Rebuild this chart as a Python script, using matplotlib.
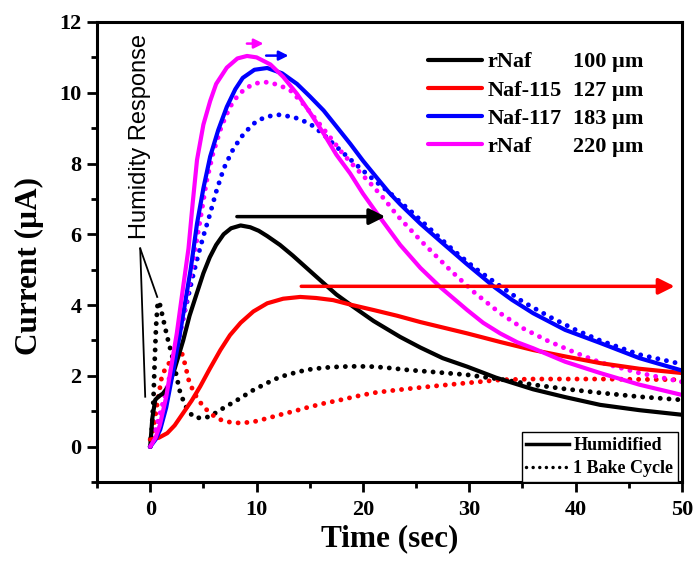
import matplotlib
matplotlib.use("Agg")
import matplotlib.pyplot as plt
from matplotlib.lines import Line2D
from matplotlib.ticker import MultipleLocator

# ---- data (time in s, current in uA) ----
x_k_hum = [0, 0.2, 0.47, 0.8, 1.2, 1.7, 2.2, 2.7, 3.1, 3.7, 4.4, 5.0, 5.6, 6.2, 6.9, 7.6, 8.5, 9.4,
           10.2, 11, 12.2, 13.4, 14.7, 16, 17.5, 19.1, 21, 23.5, 25.4, 27.5, 29.8, 32.5, 36, 39, 42.3, 46, 50]
y_k_hum = [0, 0.8, 1.32, 1.42, 1.5, 1.7, 2.1, 2.6, 3.0, 3.7, 4.35, 4.9, 5.35, 5.7, 6.0, 6.17, 6.25, 6.2,
           6.1, 5.95, 5.7, 5.4, 5.05, 4.7, 4.3, 3.95, 3.55, 3.1, 2.8, 2.5, 2.26, 1.95, 1.62, 1.4, 1.18, 1.03, 0.9]

x_r_hum = [0, 0.8, 1.6, 2.3, 3.1, 3.9, 4.7, 5.6, 6.6, 7.5, 8.5, 9.7, 11, 12.5, 14.1, 15.6, 17.2, 19,
           21, 23.2, 25.4, 27.6, 29.8, 33, 36, 39, 42.3, 46, 50]
y_r_hum = [0.2, 0.25, 0.38, 0.6, 0.95, 1.3, 1.7, 2.2, 2.73, 3.15, 3.5, 3.82, 4.05, 4.18, 4.23, 4.2, 4.14, 4.0,
           3.86, 3.7, 3.52, 3.36, 3.2, 2.95, 2.73, 2.55, 2.36, 2.2, 2.08]

x_b_hum = [0, 0.5, 0.94, 1.5, 2.2, 2.8, 3.3, 3.8, 4.4, 5.0, 5.64, 6.4, 7.2, 8.0, 8.7, 9.8, 11, 12.4, 13.8,
           15, 16.3, 17.5, 18.8, 20, 21.3, 22.4, 23.5, 25.4, 27.3, 29.8, 32.4, 34, 36, 39, 42.3, 46, 50]
y_b_hum = [0, 0.2, 0.48, 1.1, 2.2, 3.2, 4.1, 5.0, 6.3, 7.3, 8.2, 8.95, 9.6, 10.1, 10.42, 10.65, 10.7, 10.55, 10.25,
           9.9, 9.5, 9.05, 8.56, 8.08, 7.6, 7.2, 6.85, 6.3, 5.8, 5.15, 4.5, 4.15, 3.77, 3.3, 2.93, 2.5, 2.15]

x_m_hum = [0, 0.5, 0.9, 1.5, 2.0, 2.5, 3.0, 3.6, 4.0, 4.4, 5.0, 5.64, 6.2, 7.2, 8.2, 9.1, 10.0, 11.3, 12.5,
           13.8, 15, 16.3, 17.5, 18.8, 20, 21.3, 22.4, 23.5, 25.4, 27.3, 29.8, 31.3, 32.9, 34.5, 36, 39, 42.3, 46, 50]
y_m_hum = [0, 0.25, 0.6, 1.4, 2.3, 3.2, 4.3, 5.6, 6.9, 8.1, 9.1, 9.77, 10.25, 10.71, 10.97, 11.04, 11.0, 10.8, 10.45,
           9.97, 9.45, 8.85, 8.25, 7.72, 7.15, 6.6, 6.15, 5.7, 5.05, 4.5, 3.86, 3.5, 3.2, 2.95, 2.78, 2.4, 2.08, 1.75, 1.46]

x_k_bake = [0, 0.15, 0.3, 0.42, 0.55, 0.7, 0.85, 1.0, 1.3, 1.6, 1.9, 2.2, 2.5, 2.8, 3.3, 4.0, 4.8, 5.6, 6.6,
            7.4, 8.2, 9.7, 11, 12.2, 13.5, 14.7, 16.3, 17.9, 19.5, 21, 22.6, 24.1, 27, 29.8, 33, 36, 39, 42.3, 46, 50]
y_k_bake = [0, 0.5, 1.3, 2.4, 3.4, 4.05, 4.1, 3.9, 3.5, 3.1, 2.75, 2.4, 1.95, 1.55, 1.15, 0.85, 0.8, 0.85, 1.04,
            1.18, 1.32, 1.6, 1.8, 1.97, 2.08, 2.17, 2.23, 2.26, 2.27, 2.26, 2.22, 2.17, 2.1, 2.03, 1.9, 1.75, 1.63, 1.52, 1.41, 1.32]

x_r_bake = [0, 0.3, 0.6, 1.1, 1.5, 2.0, 2.5, 3.0, 3.3, 3.6, 4.0, 4.4, 5.0, 5.7, 6.4, 7.3, 8.2, 9.0, 9.7, 11,
            12.2, 13.5, 14.7, 16.3, 17.9, 19.5, 21, 22.6, 24.1, 27, 29.8, 33, 36, 42.3, 50]
y_r_bake = [0.2, 0.5, 1.1, 2.0, 2.25, 2.45, 2.6, 2.62, 2.3, 1.9, 1.6, 1.38, 1.13, 0.93, 0.78, 0.7, 0.67, 0.68, 0.7, 0.8,
            0.9, 1.0, 1.1, 1.22, 1.32, 1.43, 1.52, 1.58, 1.63, 1.72, 1.8, 1.89, 1.91, 1.91, 1.89]

x_b_bake = [0, 0.6, 1.2, 1.9, 2.5, 3.0, 3.5, 4.0, 4.5, 5.0, 5.6, 6.2, 6.9, 7.7, 8.5, 9.3, 10, 11, 12.2, 13.6,
            15, 16.3, 17.6, 18.8, 20, 21.3, 22.6, 24.7, 26.5, 28.5, 30.5, 32.6, 35, 37.6, 40, 42.3, 46, 50]
y_b_bake = [0, 0.5, 1.13, 2.0, 2.8, 3.5, 4.14, 4.8, 5.4, 5.95, 6.55, 7.2, 7.85, 8.35, 8.73, 9.0, 9.2, 9.33, 9.38, 9.3,
            9.13, 8.82, 8.45, 8.12, 7.8, 7.47, 7.15, 6.6, 6.1, 5.55, 5.05, 4.6, 4.1, 3.66, 3.3, 3.0, 2.6, 2.33]

x_m_bake = [0, 0.8, 1.6, 2.3, 3.1, 3.9, 4.7, 5.3, 5.9, 6.7, 7.5, 8.3, 9.1, 10, 11, 12.1, 13.2, 14.5, 15.7,
            16.9, 18.1, 19.4, 20.7, 22, 23.2, 25.5, 28.2, 30.5, 32.9, 35, 37.3, 40, 42.3, 46, 50]
y_m_bake = [0, 0.8, 1.7, 2.6, 3.6, 5.0, 6.4, 7.5, 8.28, 9.05, 9.6, 9.95, 10.15, 10.27, 10.3, 10.22, 10.06, 9.65, 9.2,
            8.75, 8.28, 7.85, 7.44, 7.0, 6.54, 5.8, 4.99, 4.35, 3.77, 3.35, 3.0, 2.65, 2.38, 2.08, 1.83]

names = ["rNaf", "Naf-115", "Naf-117", "rNaf"]
thick = ["100 \u00b5m", "127 \u00b5m", "183 \u00b5m", "220 \u00b5m"]
colors = ["black", "#ff0000", "#0000ff", "#ff00ff"]

plt.rcParams["font.family"] = ["Liberation Serif", "DejaVu Serif"]
plt.rcParams["font.weight"] = "bold"

fig = plt.figure(figsize=(6.93, 5.61), dpi=100)
ax = fig.add_axes([0.140, 0.1408, 0.8442, 0.820])

dot = (0, (0.01, 1.8))
hum = [(x_k_hum, y_k_hum), (x_r_hum, y_r_hum), (x_b_hum, y_b_hum), (x_m_hum, y_m_hum)]
bake = [(x_k_bake, y_k_bake), (x_r_bake, y_r_bake), (x_b_bake, y_b_bake), (x_m_bake, y_m_bake)]
for (xs, ys), c in zip(bake, colors):
    ax.plot(xs, ys, color=c, lw=3.5, ls=dot, dash_capstyle="round")
for (xs, ys), c in zip(hum, colors):
    ax.plot(xs, ys, color=c, lw=3.0, solid_capstyle="round", solid_joinstyle="round")

ax.set_xlim(-5, 50)
ax.set_ylim(-1, 12)
ax.xaxis.set_major_locator(MultipleLocator(10))
ax.xaxis.set_minor_locator(MultipleLocator(5))
ax.yaxis.set_major_locator(MultipleLocator(2))
ax.yaxis.set_minor_locator(MultipleLocator(1))
ax.tick_params(which="major", direction="out", length=7, width=2, labelsize=16, pad=4)
ax.tick_params(which="minor", direction="out", length=4.5, width=2)
ax.tick_params(axis="x", which="major", pad=6)
for sp in ax.spines.values():
    sp.set_linewidth(2.2)

ax.set_xlabel("Time (sec)", fontsize=22.5, fontweight="bold", va="top")
ax.set_ylabel("Current (\u00b5A)", fontsize=22.5, fontweight="bold")
ax.xaxis.set_label_coords(0.5, -0.092)
ax.yaxis.set_label_coords(-0.09, 0.47)

# annotations
ax.text(-0.94, 8.76, "Humidity Response", rotation=90, ha="center", va="center",
        fontsize=17, fontweight="normal", family=["Liberation Sans", "DejaVu Sans"])
ax.plot([-0.94, -0.47], [5.6, 1.41], color="black", lw=1.3)
ax.plot([-0.94, 0.66], [5.6, 4.23], color="black", lw=1.3)

def arrow(x0, x1, y, c, lw, ms):
    ax.annotate("", xy=(x1, y), xytext=(x0, y),
                arrowprops=dict(arrowstyle="-|>", color=c, lw=lw, mutation_scale=ms,
                                shrinkA=0, shrinkB=0))

arrow(8.15, 22.1, 6.5, "black", 2.5, 24)
arrow(14.2, 49.3, 4.53, "#ff0000", 2.5, 24)
arrow(9.09, 10.65, 11.39, "#ff00ff", 1.8, 14)
arrow(10.9, 13.0, 11.05, "#0000ff", 1.8, 14)

# legends
h1 = [Line2D([], [], color=c, lw=3.0, solid_capstyle="round") for c in colors]
leg1 = ax.legend(h1, names, loc="upper left", bbox_to_anchor=(0.566, 0.935),
                 frameon=False, fontsize=16, handlelength=2.43, handletextpad=0.23,
                 borderpad=0, borderaxespad=0, labelspacing=0.34)
ax.add_artist(leg1)

h2 = [Line2D([], [], color="black", lw=2.5),
      Line2D([], [], color="black", lw=2.5, ls=(0, (0.01, 1.9)), dash_capstyle="round")]
leg2 = ax.legend(h2, ["Humidified", "1 Bake Cycle"], loc="lower right",
                 bbox_to_anchor=(0.993, 0.0), fontsize=13, handlelength=2.38,
                 handletextpad=0.22, borderpad=0.26, borderaxespad=0, labelspacing=0.35,
                 fancybox=False, edgecolor="black", framealpha=1)
leg2.get_frame().set_linewidth(1.0)

fig.canvas.draw()
inv = ax.transAxes.inverted()
for t, lab in zip(leg1.get_texts(), thick):
    bb = t.get_window_extent()
    y0 = inv.transform((bb.x0, bb.y0))[1]
    ax.text(0.8137, y0, lab, transform=ax.transAxes, ha="left", va="bottom",
            fontsize=16, fontweight="bold")

fig.savefig("out.png", dpi=100)
